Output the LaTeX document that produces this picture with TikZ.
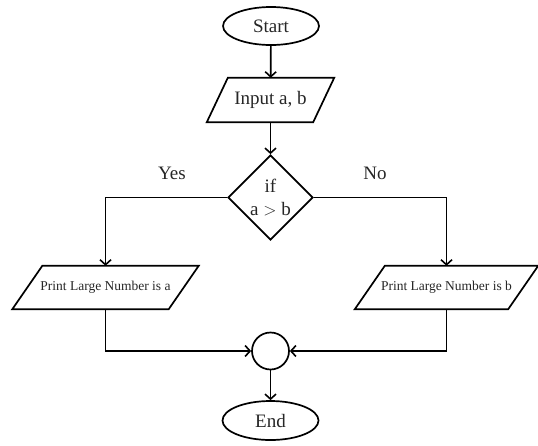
\documentclass[tikz,border=0pt]{standalone}
\usepackage{fontspec}
\setmainfont{Liberation Serif}
\usetikzlibrary{arrows.meta,shapes.geometric}

\begin{document}
\begin{tikzpicture}[x=1pt,y=-1pt,
  line/.style={line width=1.7pt,black},
  arr/.style={line,-{Straight Barb[length=5pt,width=11pt,line width=1.6pt]}},
  bigtext/.style={font=\fontsize{19}{22}\selectfont,text=black!85},
  smalltext/.style={font=\fontsize{13.5}{16}\selectfont,text=black!85},
  terminal/.style={ellipse,line,draw,bigtext,inner sep=0pt,minimum width=96pt,minimum height=38pt},
  iobox/.style={rectangle,inner sep=0pt},
  decision/.style={diamond,line,draw,bigtext,align=center,inner sep=0pt,minimum width=85pt,minimum height=85pt},
  joiner/.style={circle,line,draw,inner sep=0pt,minimum size=37pt},
  answer/.style={bigtext}]
  \useasboundingbox (0,0) rectangle (538,445);

  % nodes
  \node[terminal] (start) at (271,26) {Start};
  \node[iobox,bigtext,minimum width=106pt,minimum height=44pt] (input) at (270.5,100) {Input a, b};
  \node[decision] (dec) at (270.5,197.5) {if\\[1pt]a $>$ b};
  \node[iobox,smalltext,minimum width=156pt,minimum height=43pt] (pa) at (105.5,287.5) {Print Large Number is a};
  \node[iobox,smalltext,minimum width=153pt,minimum height=43pt] (pb) at (446.5,287.5) {Print Large Number is b};
  \node[joiner] (join) at (270.5,351) {};
  \node[terminal,minimum height=39pt] (end) at (270.5,420.5) {End};
  \node[answer] (yes) at (172,173) {Yes};
  \node[answer] (no) at (375,173) {No};

  % parallelogram outlines around the input/output nodes
  \draw[line,line join=miter] ([xshift=10.5pt]input.north west) -- ([xshift=10.5pt]input.north east)
    -- ([xshift=-10.5pt]input.south east) -- ([xshift=-10.5pt]input.south west) -- cycle;
  \draw[line,line join=miter] ([xshift=15pt]pa.north west) -- ([xshift=15pt]pa.north east)
    -- ([xshift=-15pt]pa.south east) -- ([xshift=-15pt]pa.south west) -- cycle;
  \draw[line,line join=miter] ([xshift=15pt]pb.north west) -- ([xshift=15pt]pb.north east)
    -- ([xshift=-15pt]pb.south east) -- ([xshift=-15pt]pb.south west) -- cycle;

  % connectors
  \draw[arr] (start) -- (input);
  \draw[arr] (input) -- (dec);
  \draw[arr] (dec.west) -| (pa.north);
  \draw[arr] (dec.east) -| (pb.north);
  \draw[arr] (pa.south) |- (join.west);
  \draw[arr] (pb.south) |- (join.east);
  \draw[arr] (join) -- (end);
\end{tikzpicture}
\end{document}
